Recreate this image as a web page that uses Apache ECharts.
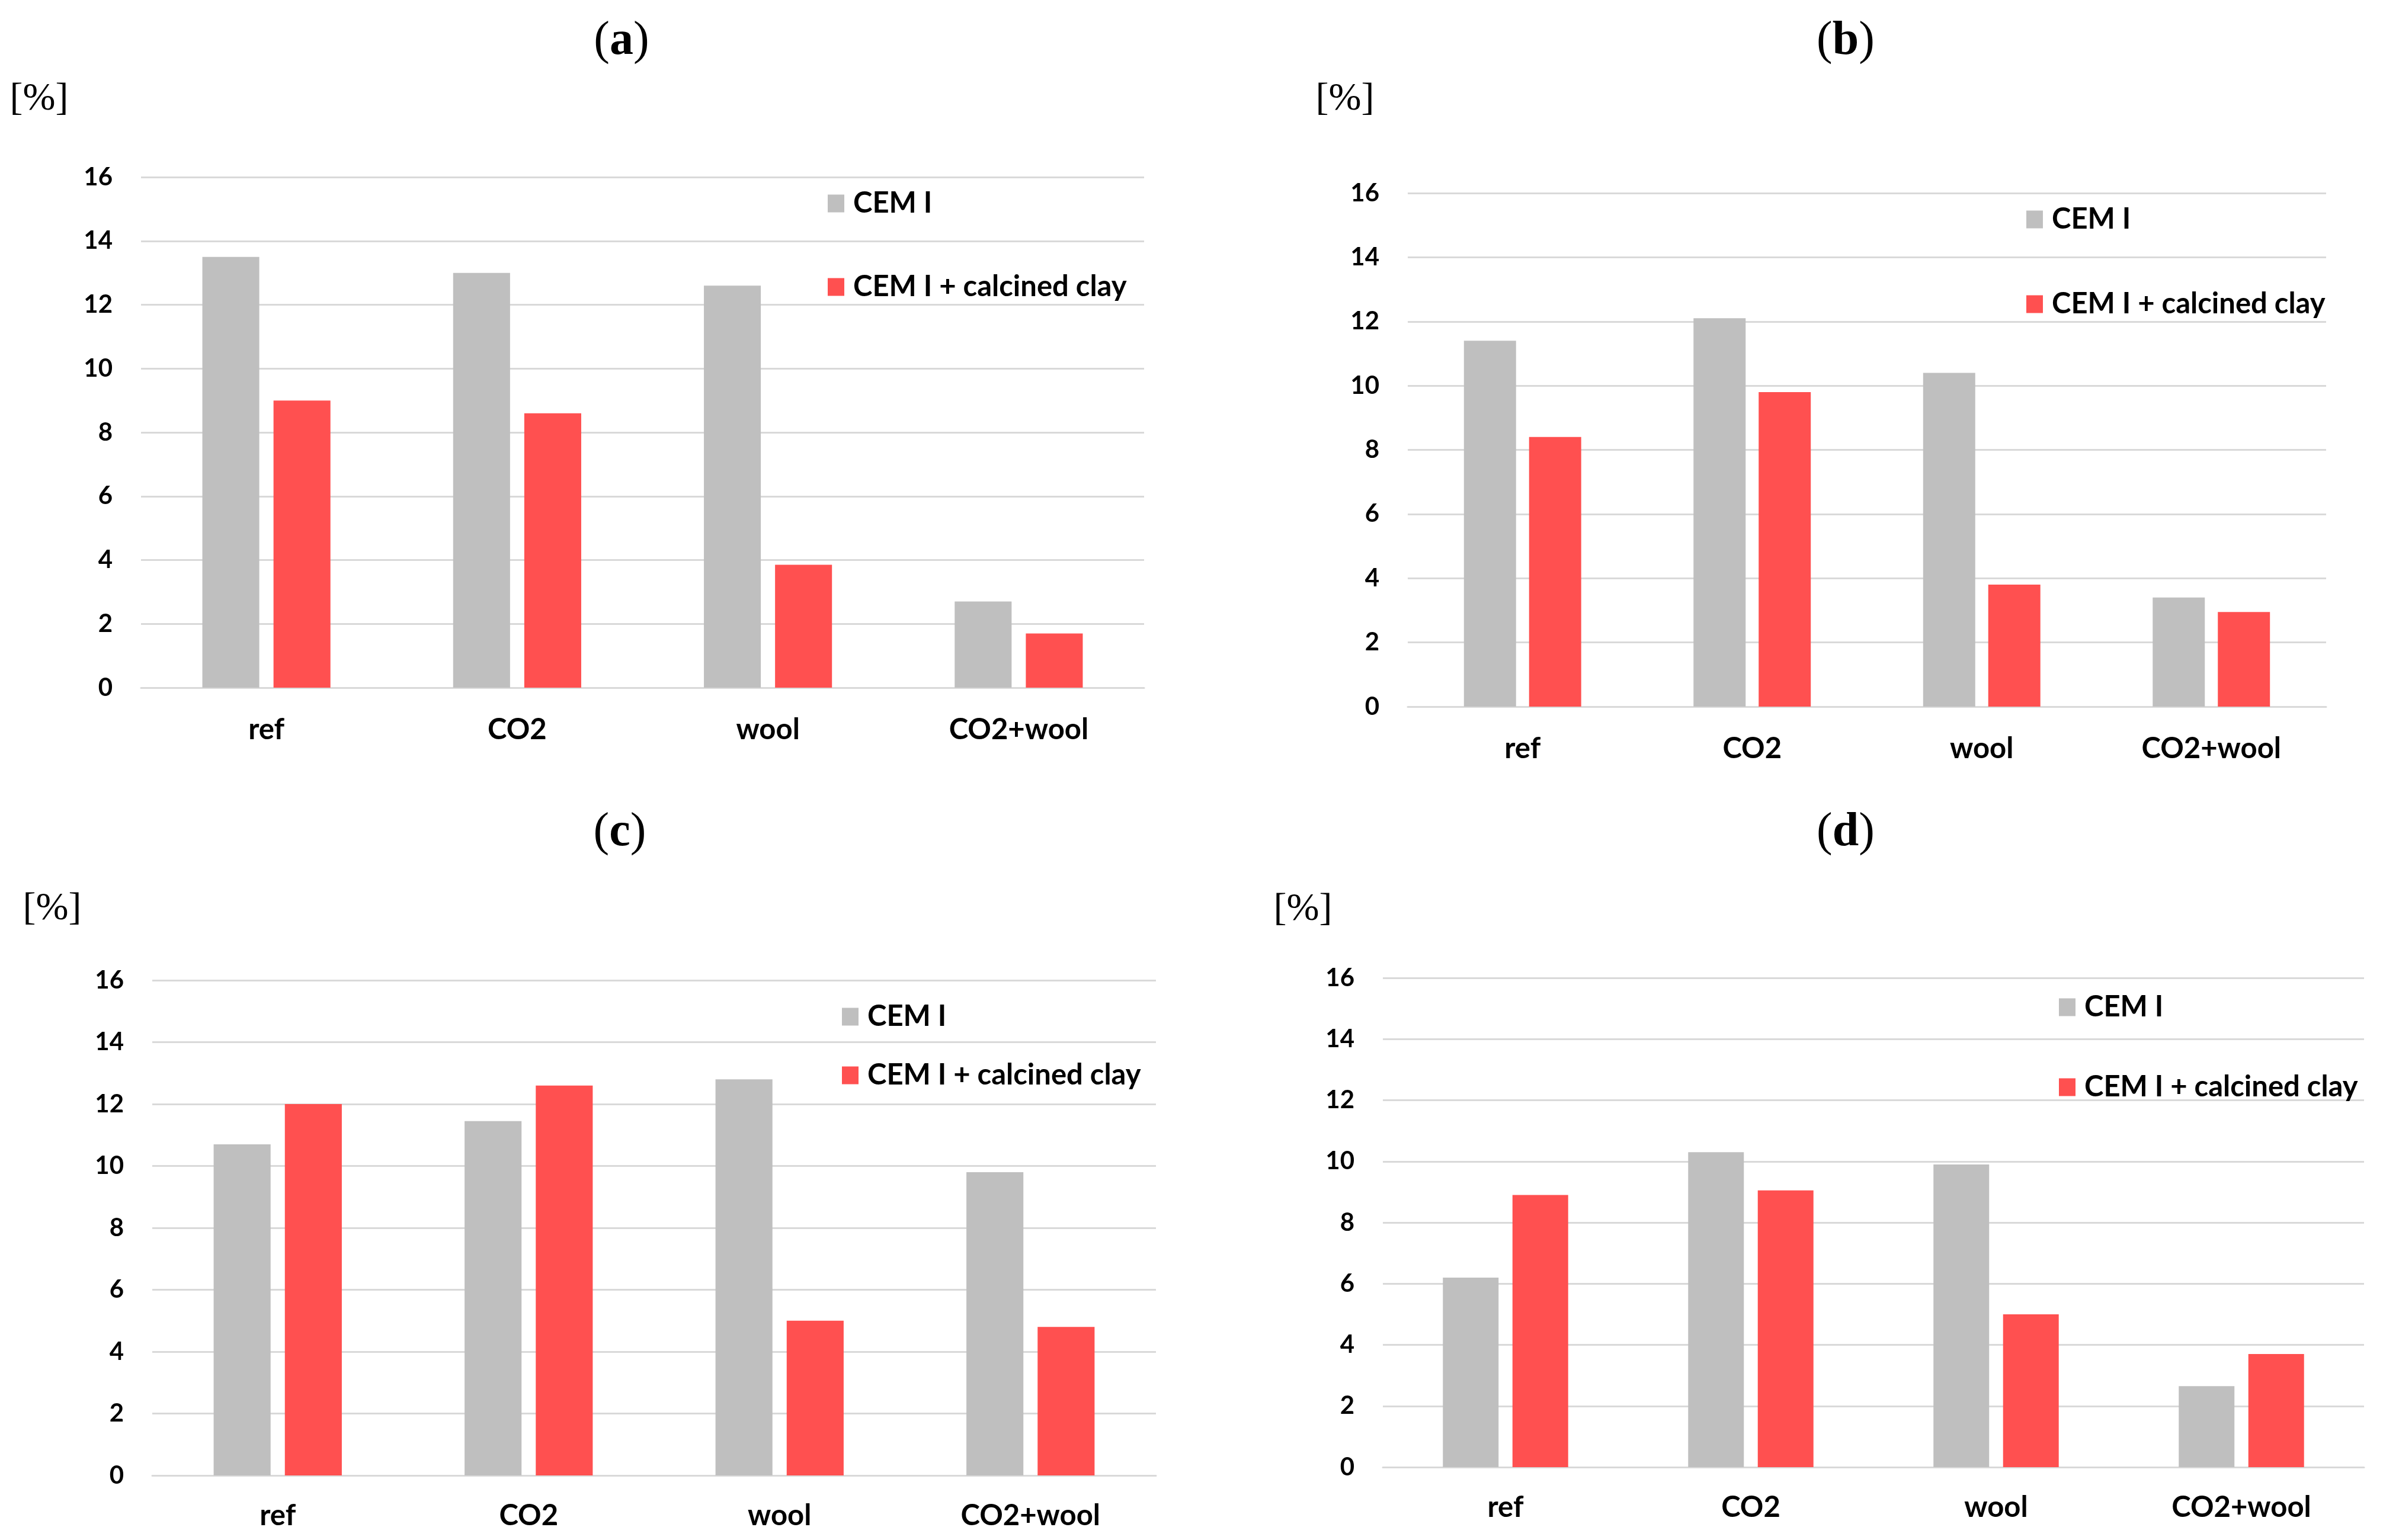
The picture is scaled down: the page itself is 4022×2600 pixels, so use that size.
<!DOCTYPE html>
<html><head><meta charset="utf-8">
<script src="https://cdn.jsdelivr.net/npm/echarts@6/dist/echarts.min.js"></script>
<style>html,body{margin:0;padding:0;background:#fff}#c{width:4022px;height:2600px}</style>
</head><body><div id="c"></div>
<script>
// ---- data ----
const categories = ['ref', 'CO2', 'wool', 'CO2+wool'];
const seriesNames = ['CEM I', 'CEM I + calcined clay'];
const panelLabels = ['a', 'b', 'c', 'd'];
const yUnit = '[%]';
const yMin = 0, yMax = 16, yStep = 2;
const cemI_a = [13.5, 13.0, 12.6, 2.7];
const clay_a = [9.0, 8.6, 3.85, 1.7];
const cemI_b = [11.4, 12.1, 10.4, 3.4];
const clay_b = [8.4, 9.8, 3.8, 2.95];
const cemI_c = [10.7, 11.45, 12.8, 9.8];
const clay_c = [12.0, 12.6, 5.0, 4.8];
const cemI_d = [6.2, 10.3, 9.9, 2.65];
const clay_d = [8.9, 9.05, 5.0, 3.7];

// ---- layout (pixels) ----
const panels = [
  {cem: cemI_a, clay: clay_a, grid: {left: 238, top: 299, width: 1693, height: 862}, legend: {left: 1397, top: 319, gap: 92}, title: {x: 1049, y: 70}, unit: {x: 66, y: 168}, xm: 47},
  {cem: cemI_b, clay: clay_b, grid: {left: 2376, top: 326, width: 1550, height: 867}, legend: {left: 3420, top: 346, gap: 94}, title: {x: 3115, y: 70}, unit: {x: 2270, y: 168}, xm: 47},
  {cem: cemI_c, clay: clay_c, grid: {left: 257, top: 1655, width: 1694, height: 836}, legend: {left: 1421, top: 1692, gap: 50}, title: {x: 1046, y: 1406}, unit: {x: 88, y: 1535}, xm: 44},
  {cem: cemI_d, clay: clay_d, grid: {left: 2334, top: 1651, width: 1656, height: 826}, legend: {left: 3475, top: 1676, gap: 86}, title: {x: 3115, y: 1406}, unit: {x: 2199, y: 1536}, xm: 44}
];

const GRAY = '#BFBFBF', RED = '#FF5050', LINE = '#D9D9D9';
const SANS = 'Lato, "Open Sans", sans-serif';
const SERIF = '"Liberation Serif", "DejaVu Serif", serif';

const option = {
  backgroundColor: '#fff',
  animation: false,
  grid: [], xAxis: [], yAxis: [], series: [], legend: [], graphic: []
};

panels.forEach((p, i) => {
  option.grid.push(Object.assign({containLabel: false}, p.grid));
  option.xAxis.push({
    type: 'category', gridIndex: i, data: categories,
    axisLine: {show: true, lineStyle: {color: LINE, width: 3}},
    axisTick: {show: false},
    axisLabel: {margin: p.xm, fontFamily: SANS, fontWeight: 'bold', fontSize: 49, lineHeight: 49, color: '#000'}
  });
  option.yAxis.push({
    type: 'value', gridIndex: i, min: yMin, max: yMax, interval: yStep,
    axisLine: {show: false}, axisTick: {show: false},
    splitLine: {lineStyle: {color: LINE, width: 3}},
    axisLabel: {margin: 48, fontFamily: SANS, fontWeight: 'bold', fontSize: 42, color: '#000'}
  });
  option.series.push({
    name: seriesNames[0], type: 'bar', xAxisIndex: i, yAxisIndex: i, data: p.cem,
    barWidth: '22.7%', barGap: '25%', itemStyle: {color: GRAY}
  });
  option.series.push({
    name: seriesNames[1], type: 'bar', xAxisIndex: i, yAxisIndex: i, data: p.clay,
    barWidth: '22.7%', barGap: '25%', itemStyle: {color: RED}
  });
  option.legend.push({
    data: seriesNames, orient: 'vertical', left: p.legend.left, top: p.legend.top,
    itemGap: p.legend.gap, itemWidth: 28, itemHeight: 30, icon: 'rect', selectedMode: false,
    padding: 0,
    textStyle: {fontFamily: SANS, fontWeight: 'bold', fontSize: 49, lineHeight: 49, color: '#000', padding: [0, 0, 0, 10]}
  });
  option.graphic.push({
    type: 'text', x: p.title.x, y: p.title.y,
    style: {
      text: '{p|(}{b|' + panelLabels[i] + '}{p|)}', align: 'center', verticalAlign: 'middle',
      rich: {
        p: {fontFamily: SERIF, fontSize: 80, fill: '#000'},
        b: {fontFamily: SERIF, fontSize: 80, fontWeight: 'bold', fill: '#000'}
      }
    }
  });
  option.graphic.push({
    type: 'text', x: p.unit.x, y: p.unit.y,
    style: {text: yUnit, align: 'center', verticalAlign: 'middle', fontFamily: SERIF, fontSize: 66, fill: '#000'}
  });
});

const chart = echarts.init(document.getElementById('c'));
chart.setOption(option);
</script>
</body></html>
